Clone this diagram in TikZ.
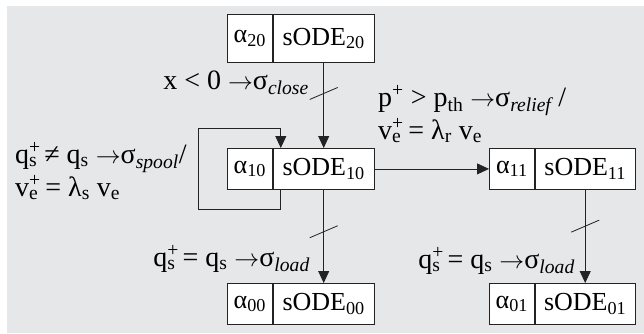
\documentclass[tikz,border=0pt]{standalone}
\usepackage{fontspec}
\setmainfont{Liberation Serif}
\usetikzlibrary{positioning, arrows.meta}
\definecolor{bggray}{RGB}{230,231,233}
\definecolor{linegray}{RGB}{35,35,35}
\newcommand{\supsub}[2]{\rlap{\textsuperscript{#1}}\textsubscript{#2}}
\newcommand{\goes}{\ensuremath{\rightarrow}}

\begin{document}
\begin{tikzpicture}[x=1pt, y=-1pt,
      cell/.style={draw=linegray, fill=white, line width=0.8pt,
                   inner sep=0pt, minimum height=41pt,
                   font=\fontsize{26}{29}\selectfont},
      acell/.style={cell, minimum width=45pt},
      scell/.style={cell, minimum width=101pt},
      arr/.style={-{Triangle[length=12pt, width=11pt]}, draw=linegray, line width=0.8pt},
      tick/.style={draw=linegray, line width=0.8pt},
      lbl/.style={inner sep=0pt, align=left, font=\fontsize{28}{33}\selectfont}]
    \fill[bggray] (7,6) rectangle (644,333);
    \useasboundingbox (0,0) rectangle (644,333);
    % states
    \node[acell, minimum height=48pt, anchor=north west] (a20) at (227,14) {α\textsubscript{20}};
    \node[scell, minimum height=48pt, right=0pt of a20]  (s20) {sODE\textsubscript{20}};
    \node[acell, anchor=north west] (a10) at (227,148) {α\textsubscript{10}};
    \node[scell, right=0pt of a10]  (s10) {sODE\textsubscript{10}};
    \node[acell, anchor=north west] (a11) at (489,148) {α\textsubscript{11}};
    \node[scell, minimum width=100pt, right=0pt of a11] (s11) {sODE\textsubscript{11}};
    \node[acell, anchor=north west] (a00) at (227,283) {α\textsubscript{00}};
    \node[scell, right=0pt of a00]  (s00) {sODE\textsubscript{00}};
    \node[acell, anchor=north west] (a01) at (489,283) {α\textsubscript{01}};
    \node[scell, minimum width=100pt, right=0pt of a01] (s01) {sODE\textsubscript{01}};
    % transitions
    \draw[arr] (s20.south) -- coordinate[pos=0.36] (t20) (s10.north);
    \draw[arr] (s10.south) -- coordinate[pos=0.45] (t10) (s00.north);
    \draw[arr] (s11.south) -- coordinate[pos=0.39] (t11) (s01.north);
    \draw[arr] (s10.east) -- (a11.west);
    \coordinate (loop) at (198,128);
    \draw[arr] ([xshift=8pt]s10.south west) -- ++(0,20) -| (loop)
               -| ([xshift=8pt]s10.north west);
    \foreach \t in {t20, t10, t11}
      \draw[tick] ([shift={(-14,6)}]\t) -- ([shift={(14,-6)}]\t);
    % guards
    \node[lbl, anchor=base east] (g20) at (309,89)
      {x < 0 \goes σ\textsubscript{\itshape close}};
    \node[lbl, anchor=base west] (g10) at (15,196)
      {q\supsub{+}{s} ≠ q\textsubscript{s} \goes σ\textsubscript{\itshape spool}/\\
       v\supsub{+}{e} = λ\textsubscript{s} v\textsubscript{e}};
    \node[lbl, anchor=base west] (g11) at (378,139)
      {p\textsuperscript{+} > p\textsubscript{th} \goes σ\textsubscript{\itshape relief} /\\
       v\supsub{+}{e} = λ\textsubscript{r} v\textsubscript{e}};
    \node[lbl, anchor=base east] (g00) at (310,266)
      {q\supsub{+}{s} = q\textsubscript{s} \goes σ\textsubscript{\itshape load}};
    \node[lbl, anchor=base east] (g01) at (575,268)
      {q\supsub{+}{s} = q\textsubscript{s} \goes σ\textsubscript{\itshape load}};
  \end{tikzpicture}
\end{document}
